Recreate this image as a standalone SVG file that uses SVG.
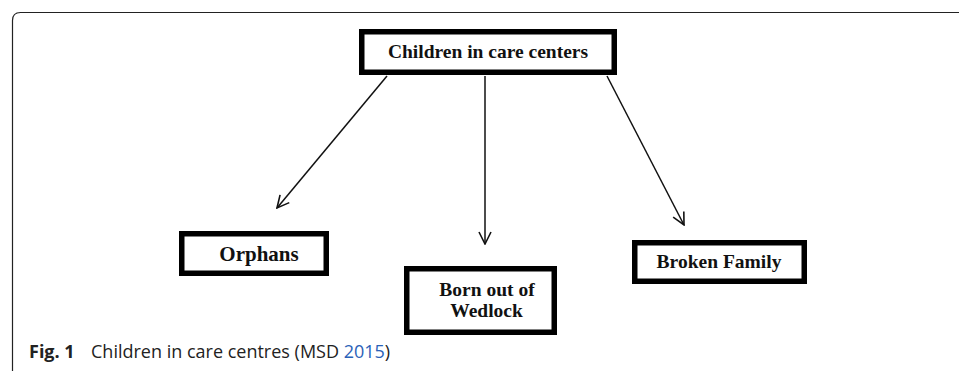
<svg xmlns="http://www.w3.org/2000/svg" width="959" height="371" viewBox="0 0 959 371">
<style>
.box{fill:#fff;stroke:#000;stroke-width:5.5}
.lbl{font-family:"Liberation Serif","Times New Roman",serif;font-weight:bold;font-size:19.5px;fill:#111;text-anchor:middle}
.conn{stroke:#111;stroke-width:1.5;fill:none}
.cap{font-family:"Open Sans","Noto Sans",sans-serif;font-size:18px;fill:#222}
</style>
<defs>
<marker id="arr" viewBox="0 0 14 14" refX="13" refY="7" markerWidth="14" markerHeight="14" markerUnits="userSpaceOnUse" orient="auto">
<path d="M1,1 L13,7 L1,13" fill="none" stroke="#111" stroke-width="1.6"/>
</marker>
</defs>
<path d="M12.5,371 V20.5 Q12.5,12.5 20.5,12.5 H959" fill="none" stroke="#222" stroke-width="1.2"/>
<g id="connectors">
<line class="conn" x1="387" y1="76" x2="277" y2="208" marker-end="url(#arr)"/>
<line class="conn" x1="485" y1="76" x2="485" y2="244" marker-end="url(#arr)"/>
<line class="conn" x1="607" y1="76" x2="684" y2="225" marker-end="url(#arr)"/>
</g>
<g id="root">
<rect class="box" x="361.75" y="31.75" width="252.5" height="40.5"/>
<text class="lbl" x="488" y="58">Children in care centers</text>
</g>
<g id="orphans">
<rect class="box" x="181.75" y="233.75" width="144.5" height="39.5"/>
<text class="lbl" x="259" y="261" style="font-size:21px">Orphans</text>
</g>
<g id="wedlock">
<rect class="box" x="406.75" y="268.75" width="147.5" height="63.5"/>
<text class="lbl" x="487" y="296">Born out of</text>
<text class="lbl" x="486.5" y="317">Wedlock</text>
</g>
<g id="broken">
<rect class="box" x="634.75" y="242.75" width="169.5" height="38.5"/>
<text class="lbl" x="719" y="268">Broken Family</text>
</g>
<text class="cap" x="29" y="358"><tspan font-weight="bold">Fig. 1</tspan><tspan x="91">Children in care centres (MSD </tspan><tspan fill="#2a62b8">2015</tspan>)</text>
</svg>
